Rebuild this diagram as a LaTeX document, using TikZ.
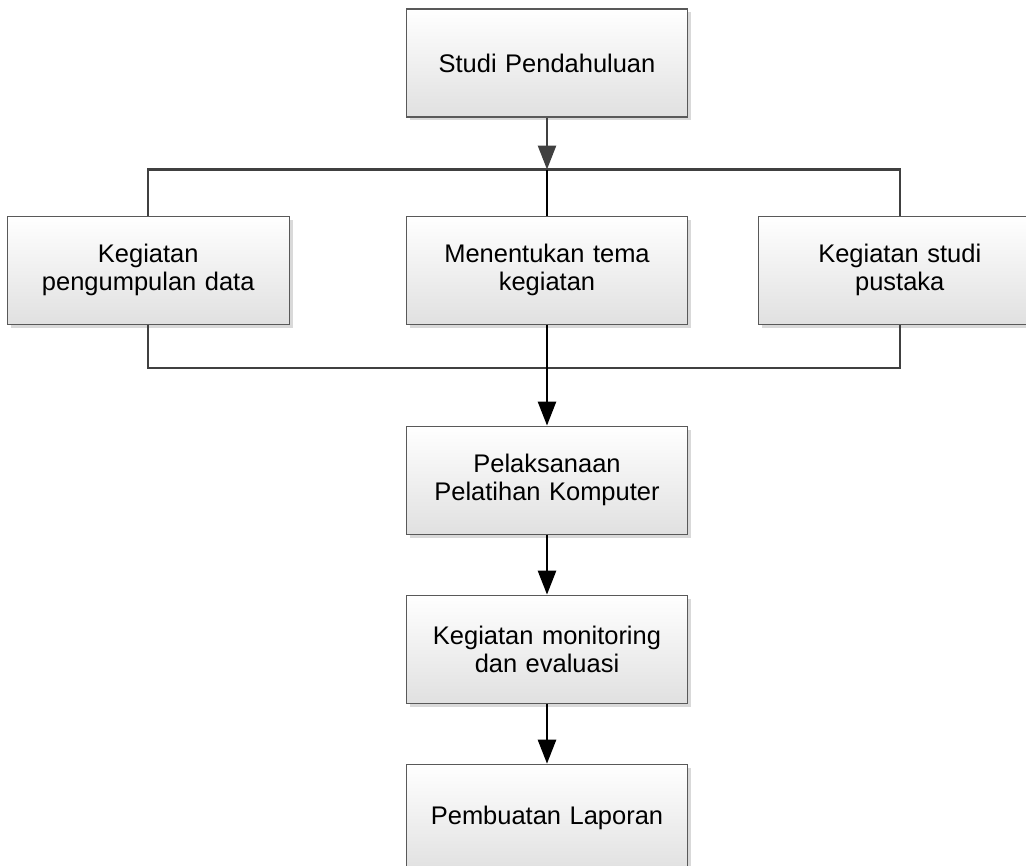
\documentclass[tikz,border=0pt]{standalone}
\usepackage{fontspec}
\setmainfont{Liberation Sans}
\usetikzlibrary{positioning,arrows.meta,shadows}
\tikzset{
  box/.style={draw=black!65, line width=0.6pt, top color=white, bottom color=black!12,
    minimum width=5.6cm, minimum height=2.16cm, align=center, text width=5.4cm,
    font=\fontsize{14.5}{16}\selectfont,
    drop shadow={shadow xshift=0.07cm, shadow yshift=-0.07cm, fill=black!25, opacity=0.6}},
  bus/.style={draw=black!75, line width=1.2pt},
  arr/.style={line width=1.5pt, -{Triangle[length=0.48cm,width=0.36cm]}}
}
\begin{document}
\begin{tikzpicture}
  \useasboundingbox (0,0) rectangle (20.52,-17.32);
  \clip (0,0) rectangle (20.52,-17.32);
  \node[box] (studi) at (10.94,-1.26) {Studi Pendahuluan};
  \node[box, below=1.96cm of studi] (tema) {Menentukan tema\\kegiatan};
  \node[box, left=2.32cm of tema] (data) {Kegiatan\\pengumpulan data};
  \node[box, right=1.4cm of tema] (pustaka) {Kegiatan studi\\pustaka};
  \node[box, below=2.02cm of tema] (latih) {Pelaksanaan\\Pelatihan Komputer};
  \node[box, below=1.2cm of latih] (monev) {Kegiatan monitoring\\dan evaluasi};
  \node[box, below=1.2cm of monev] (lapor) {Pembuatan Laporan};
  \coordinate[below=1.04cm of studi] (busT);
  \coordinate[below=0.86cm of tema] (busB);
  \draw[bus] (data.north) |- (busT) -| (pustaka.north);
  \draw[bus] (data.south) |- (busB) -| (pustaka.south);
  \draw[arr, black!75] (studi) -- (busT);
  \draw[line width=1.5pt] (busT) -- (tema);
  \draw[arr] (tema) -- (latih);
  \draw[arr] (latih) -- (monev);
  \draw[arr] (monev) -- (lapor);
\end{tikzpicture}
\end{document}
